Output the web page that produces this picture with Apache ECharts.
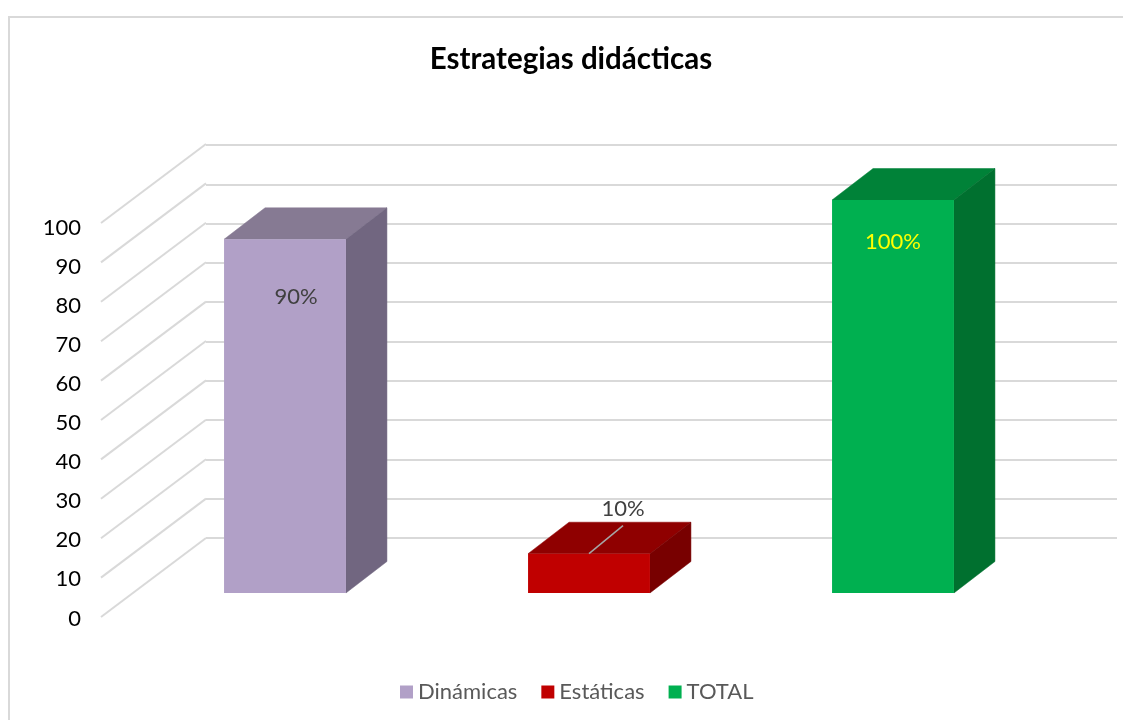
<!DOCTYPE html>
<html><head><meta charset="utf-8">
<style>html,body{margin:0;padding:0;background:#fff}#c{width:1123px;height:720px}</style>
<script src="https://cdn.jsdelivr.net/npm/echarts@6/dist/echarts.min.js"></script>
</head><body><div id="c"></div>
<script>
const categories = ['Dinámicas', 'Estáticas', 'TOTAL'];
const values = [90, 10, 100];
const valueLabels = ['90%', '10%', '100%'];
const yTicks = [0, 10, 20, 30, 40, 50, 60, 70, 80, 90, 100];

const FONT = 'Lato, "Open Sans", sans-serif';
const palette = [
  { front: '#B1A0C7', top: '#867A93', side: '#716680', label: '#404040', labelDx: 11, labelDy: 58 },
  { front: '#C00000', top: '#8F0000', side: '#780000', label: '#404040', labelDx: 34, labelDy: -45, leader: true },
  { front: '#00B050', top: '#008238', side: '#00702F', label: '#FFFF00', labelDx: 0, labelDy: 42 }
];
const DX = 41, DY = -31.5;

const chart = echarts.init(document.getElementById('c'), null, { renderer: 'canvas' });

function barSeries(i) {
  const p = palette[i];
  return {
    name: categories[i],
    type: 'custom',
    xAxisIndex: 2, yAxisIndex: 2,
    z: 5,
    itemStyle: { color: p.front },
    data: [[i, values[i]]],
    renderItem(params, api) {
      const cat = api.value(0), v = api.value(1);
      const top = api.coord([cat, v]), base = api.coord([cat, 0]);
      const w = api.size([1, 0])[0] * 0.401;
      const l = top[0] - w / 2, r = top[0] + w / 2, t = top[1], b = base[1];
      const poly = (pts, fill) => ({ type: 'polygon', shape: { points: pts }, style: { fill, stroke: fill, lineWidth: 0.5 } });
      const children = [
        poly([[l, t], [r, t], [r + DX, t + DY], [l + DX, t + DY]], p.top),
        poly([[r, t], [r + DX, t + DY], [r + DX, b + DY], [r, b]], p.side),
        { type: 'rect', shape: { x: l, y: t, width: w, height: b - t }, style: { fill: p.front } }
      ];
      const lx = top[0] + p.labelDx, ly = t + p.labelDy;
      if (p.leader) {
        children.push({ type: 'line', shape: { x1: top[0], y1: t, x2: lx, y2: ly + 17 },
          style: { stroke: '#A6A6A6', lineWidth: 1.5 } });
      }
      children.push({ type: 'text', style: { text: valueLabels[cat], x: lx, y: ly, fill: p.label,
        font: '22px ' + FONT, textAlign: 'center', textVerticalAlign: 'middle' } });
      return { type: 'group', children };
    }
  };
}

chart.setOption({
  animation: false,
  backgroundColor: '#fff',
  title: { text: 'Estrategias didácticas', left: 566, top: 39, textAlign: 'center',
    textStyle: { fontFamily: FONT, fontWeight: 'bold', fontSize: 29.5, color: '#000' } },
  legend: { left: 395, top: 676, itemWidth: 13, itemHeight: 13, itemGap: 24, icon: 'rect',
    data: categories, textStyle: { fontFamily: FONT, fontSize: 22, color: '#595959' } },
  grid: [
    { left: 206, top: 145, width: 911, height: 393 },
    { left: 101, top: 223, width: 105, height: 394 },
    { left: 133, top: 200, width: 912, height: 393 },
    { left: 101, top: 227.5, width: 105, height: 391 }
  ],
  xAxis: [
    { gridIndex: 0, type: 'category', data: categories, show: false },
    { gridIndex: 1, type: 'value', min: 0, max: 1, show: false },
    { gridIndex: 2, type: 'category', data: [0, 1, 2], show: false },
    { gridIndex: 3, type: 'value', min: 0, max: 1, show: false }
  ],
  yAxis: [
    { gridIndex: 0, type: 'value', min: 0, max: 100, interval: 10,
      axisLine: { show: false }, axisTick: { show: false }, axisLabel: { show: false },
      splitLine: { show: true, lineStyle: { color: '#D9D9D9', width: 2 } } },
    { gridIndex: 1, type: 'value', min: 0, max: 100, show: false },
    { gridIndex: 2, type: 'value', min: 0, max: 100, show: false },
    { gridIndex: 3, type: 'value', min: 0, max: 100, interval: 10,
      axisLine: { show: false }, axisTick: { show: false }, splitLine: { show: false },
      axisLabel: { margin: 20, fontFamily: FONT, fontSize: 22, color: '#000' } }
  ],
  graphic: [
    { type: 'polyline', silent: true, z: 0, shape: { points: [[9, 720], [9, 17], [1123, 17]] },
      style: { stroke: '#D9D9D9', lineWidth: 2, fill: null } }
  ],
  series: [
    { type: 'custom', xAxisIndex: 1, yAxisIndex: 1, z: 1, silent: true, legendHoverLink: false,
      data: yTicks.map(v => [0, v]),
      renderItem(params, api) {
        const v = api.value(1);
        const a = api.coord([0, v]), b = api.coord([1, v]);
        const depth = -79;
        return { type: 'line', shape: { x1: a[0], y1: a[1], x2: b[0], y2: b[1] + depth },
          style: { stroke: '#D9D9D9', lineWidth: 2 } };
      } },
    barSeries(0), barSeries(1), barSeries(2)
  ]
});
</script></body></html>
